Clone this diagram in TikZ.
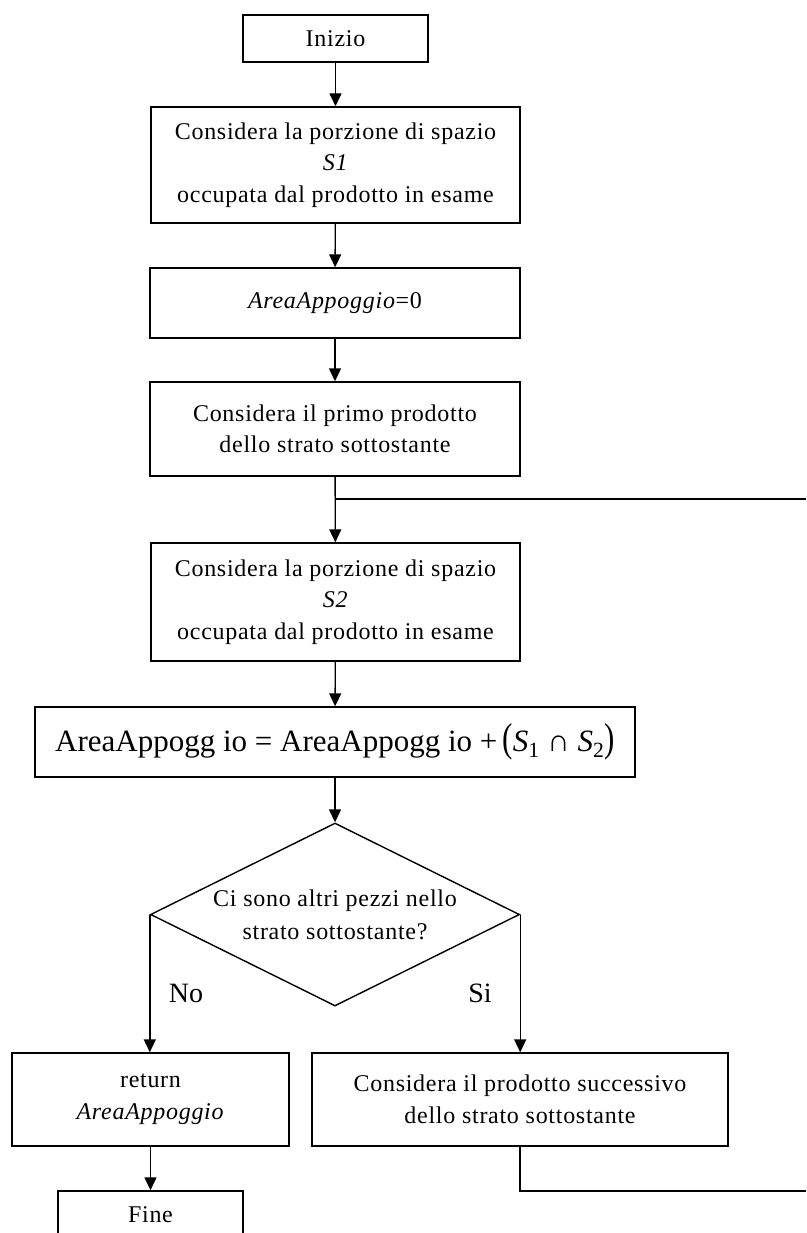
\documentclass[tikz,border=0pt]{standalone}
\usepackage{fontspec}
\setmainfont{Liberation Serif}
\newfontfamily\boxfont{Liberation Serif}[LetterSpace=3.0]
\usetikzlibrary{arrows.meta,shapes.geometric}
\begin{document}
\begin{tikzpicture}[x=1pt,y=-1pt,line width=1.4pt,
  flow/.style={-{Triangle[length=13pt,width=12pt]}},
  box/.style={draw, inner sep=0pt, align=center,
    font=\boxfont\fontsize{24}{31.5}\selectfont},
  decision/.style={diamond, draw, shape aspect=2, inner sep=0pt,
    minimum width=369pt, minimum height=183pt, align=center,
    font=\boxfont\fontsize{24}{33}\selectfont},
  lbl/.style={inner sep=0pt, font=\fontsize{28}{34}\selectfont}]
\useasboundingbox (0,0) rectangle (806,1233);
\clip (0,0) rectangle (806,1233);

% process boxes of the main column
\node[box, minimum width=185pt, minimum height=47pt] (start) at (335.5,38.5) {Inizio};
\node[box, minimum width=369pt, minimum height=116pt] (s1) at (335.5,165)
  {Considera la porzione di spazio\\\textit{S1}\\occupata dal prodotto in esame};
\node[box, minimum width=370pt, minimum height=70pt] (init) at (335,303)
  {\textit{AreaAppoggio}=0};
\node[box, minimum width=370pt, minimum height=94pt] (first) at (335,429)
  {Considera il primo prodotto\\dello strato sottostante};
\node[box, minimum width=369pt, minimum height=118pt] (s2) at (335.5,602)
  {Considera la porzione di spazio\\\textit{S2}\\occupata dal prodotto in esame};
\node[box, minimum width=600pt, minimum height=70pt, font=\fontsize{31}{37}\selectfont] (sum) at (335,742)
  {AreaAppogg io = AreaAppogg io +\,\scalebox{1}[1.3]{(}\textit{S}\textsubscript{1} ∩ \textit{S}\textsubscript{2}\scalebox{1}[1.3]{)}};

% test on the remaining pieces
\node[decision] (more) at (335,914.5) {Ci sono altri pezzi nello\\strato sottostante?};
\node[lbl] (no) at (186,993) {No};
\node[lbl] (si) at (480,993) {Si};

% the two branches
\node[box, minimum width=277pt, minimum height=93pt] (ret) at (150.5,1099.5)
  {return\\\textit{AreaAppoggio}};
\node[box, minimum width=416pt, minimum height=93pt] (next) at (520,1099.5)
  {Considera il prodotto successivo\\dello strato sottostante};
\node[box, minimum width=185pt, minimum height=47pt] (stop) at (150.5,1214.5) {Fine};

% connectors
\draw[flow] (start) -- (s1);
\draw[flow] (s1) -- (init);
\draw[flow] (init) -- (first);
\draw[flow] (first) -- (s2);
\draw[flow] (s2) -- (sum);
\draw[flow] (sum) -- (more);
\draw[flow] (more.west) -- (more.west |- ret.north);
\draw[flow] (more.east) -- (more.east |- next.north);
\draw[flow] (ret) -- (stop);

% loop back to the next product
\coordinate (loopin) at (806,499);
\coordinate (loopout) at (806,1191);
\draw (loopin) -- (loopin -| first.south);
\draw (next.south) |- (loopout);
\end{tikzpicture}
\end{document}
